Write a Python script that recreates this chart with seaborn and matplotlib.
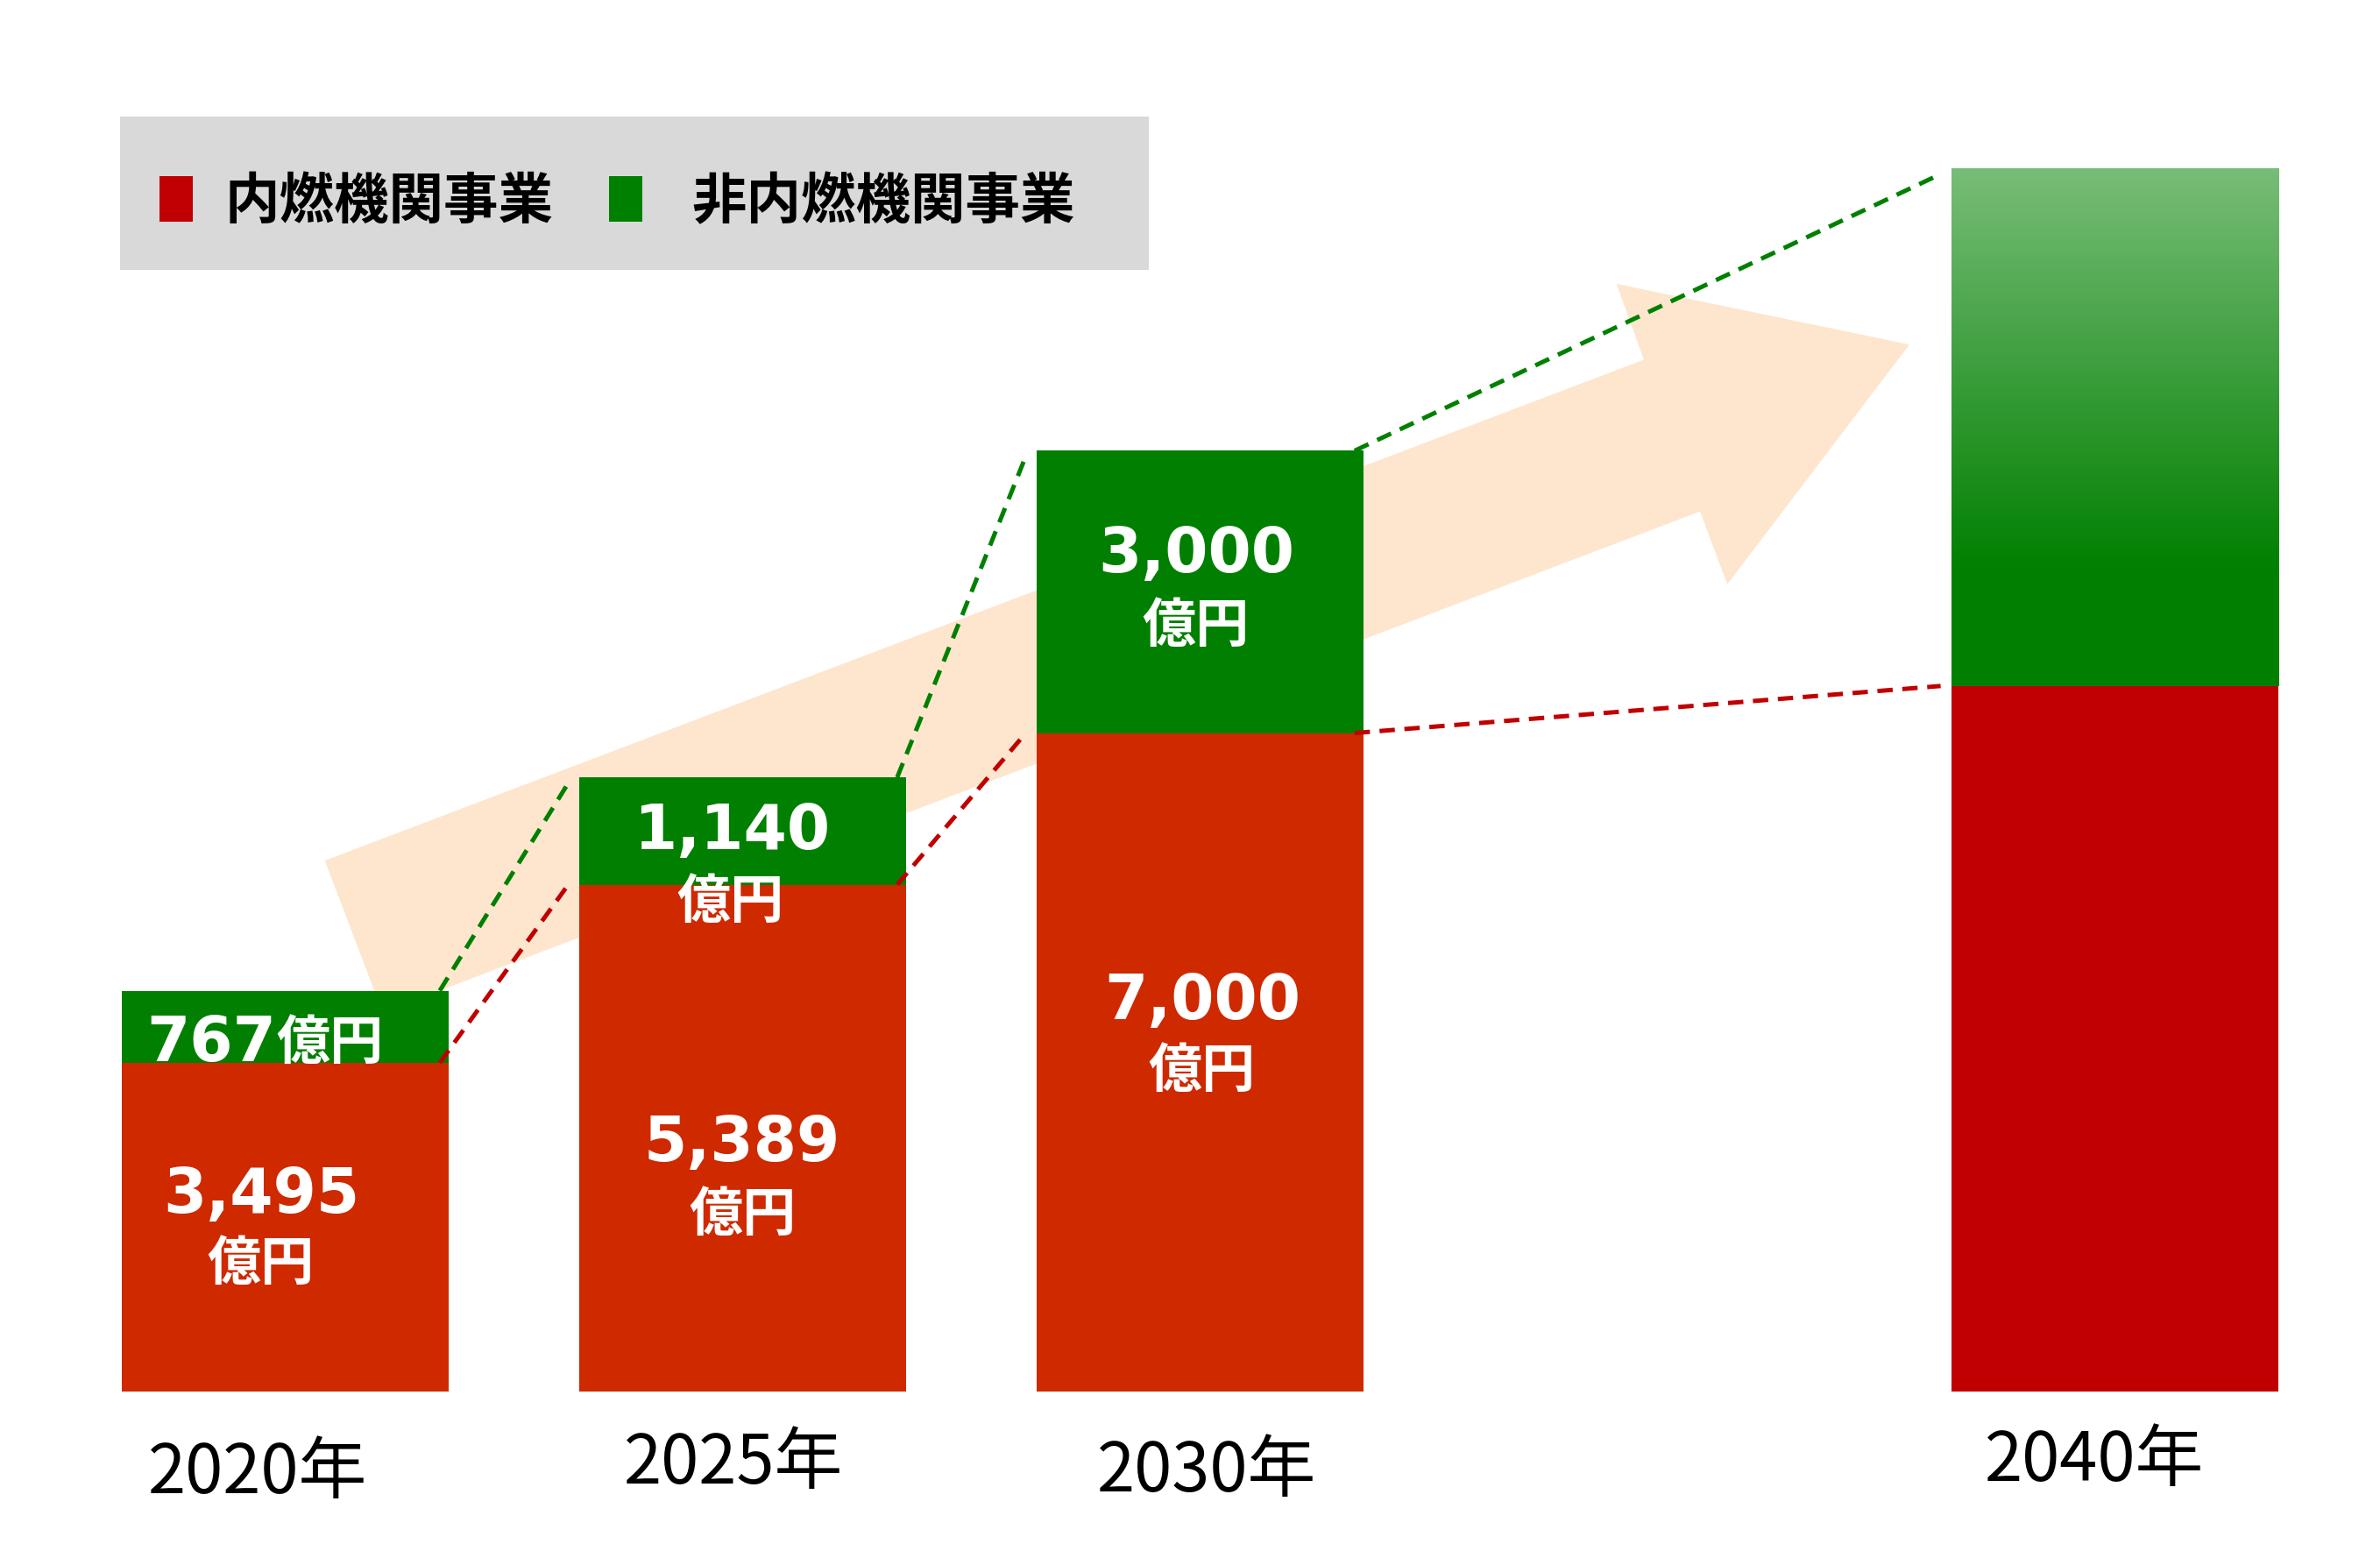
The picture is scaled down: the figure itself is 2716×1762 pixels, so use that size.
import numpy as np
import pandas as pd
import seaborn as sns
import matplotlib.pyplot as plt
from matplotlib.patches import Polygon, Rectangle

# ---- data (億円) ----
years = [2020, 2025, 2030, 2040]
year_labels = ["2020年", "2025年", "2030年", "2040年"]
engine = [3495, 5389, 7000, 7500]        # 内燃機関事業
non_engine = [767, 1140, 3000, 5500]     # 非内燃機関事業
engine_text = ["3,495", "5,389", "7,000"]
non_engine_text = ["767", "1,140", "3,000"]
legend_names = ["内燃機関事業", "非内燃機関事業"]

df = pd.DataFrame({"year": years, "engine": engine, "non_engine": non_engine})
df["total"] = df["engine"] + df["non_engine"]
df["key"] = df["year"].astype(str)

RED = "#CF2900"
RED_DARK = "#C00000"
GREEN = "#007F00"
PEACH = "#FEE6CE"

# reference pixel -> figure fraction
RW, RH = 1568, 1017.3
def fx(x):
    return x / RW
def fy(y):
    return 1 - y / RH

sns.set_style("white")
plt.rcParams["font.family"] = ["Noto Sans CJK JP", "DejaVu Sans"]

fig = plt.figure(figsize=(13.58, 8.81), dpi=200)
ax = fig.add_axes([0, 0, 1, 1])

# stacked bars: total (green) first, engine (red) on top
width = 0.715
green_pal = {k: GREEN for k in df["key"]}
red_pal = {k: (RED_DARK if k == "2040" else RED) for k in df["key"]}
sns.barplot(data=df, x="year", y="total", hue="key", palette=green_pal,
            native_scale=True, width=width, errorbar=None, legend=False,
            dodge=False, saturation=1, linewidth=0, ax=ax, zorder=1)
sns.barplot(data=df, x="year", y="engine", hue="key", palette=red_pal,
            native_scale=True, width=width, errorbar=None, legend=False,
            dodge=False, saturation=1, linewidth=0, ax=ax, zorder=1.2)

# gradient on the 2040 green segment
half = width * 5 / 2
bars = [p for p in ax.patches if isinstance(p, Rectangle)]
top_patch = [p for p in bars
             if abs(p.get_x() + p.get_width() / 2 - 2040) < 0.5
             and p.get_height() > 10000][0]
t = np.linspace(0, 1, 256)
s = np.clip((t - 0.22) / 0.78, 0, 1)
light = np.array([0.47, 0.74, 0.47])
dark = np.array([0.0, 0.5, 0.0])
grad = (dark[None, :] * (1 - s[:, None]) + light[None, :] * s[:, None])[:, None, :]
im = ax.imshow(grad, extent=[2040 - half, 2040 + half, engine[3], engine[3] + non_engine[3]],
               origin="lower", aspect="auto", zorder=1.1)
im.set_clip_path(top_patch)

# big background arrow
arrow_px = [(214, 567), (1083, 237), (1065, 187), (1258, 227),
            (1138, 385), (1120, 337), (252, 667)]
ax.add_patch(Polygon([(fx(x), fy(y)) for x, y in arrow_px], closed=True,
                     transform=fig.transFigure, facecolor=PEACH,
                     edgecolor="none", zorder=0.5))

# dashed connectors
dash = (0, (3.5, 2.2))
for i in range(3):
    j = i + 1
    x0 = years[i] + half - 0.1
    x1 = years[j] - half - 0.12
    ax.plot([x0, x1], [df["total"][i], df["total"][j] - 60], color="#008000",
            ls=dash, lw=1.8, zorder=6)
    ax.plot([x0, x1], [engine[i], engine[j]], color=RED_DARK,
            ls=dash, lw=1.8, zorder=6)

ax.set_xlim(2016.881, 2042.895)
ax.set_ylim(-1618, 14790)
ax.set_axis_off()

# legend box
ax.add_patch(Rectangle((fx(79), fy(178)), fx(757) - fx(79), (178 - 77) / RH,
                       transform=fig.transFigure, facecolor="#D9D9D9",
                       edgecolor="none", zorder=3))
for (sx, tx), c, name in zip([(105, 148), (401, 456)], [RED_DARK, "#008000"], legend_names):
    ax.add_patch(Rectangle((fx(sx), fy(146)), fx(22), 30 / RH,
                           transform=fig.transFigure, facecolor=c,
                           edgecolor="none", zorder=4))
    ax.text(fx(tx), fy(133), name, transform=fig.transFigure, fontsize=22.5,
            fontweight="bold", ha="left", va="center", color="black", zorder=5)

# year labels
year_px = [(170, 971), (483, 965), (795, 970), (1380, 963)]
for (px, py), lab in zip(year_px, year_labels):
    ax.text(fx(px), fy(py), lab, transform=fig.transFigure, fontsize=28,
            ha="center", va="center", color="black", zorder=5)

# value labels
num_kw = dict(transform=fig.transFigure, color="white", fontweight="bold",
              family=["DejaVu Sans", "Noto Sans CJK JP"], fontsize=25.5,
              va="center", zorder=7)
unit_kw = dict(transform=fig.transFigure, color="white", fontweight="bold",
               fontsize=22, va="center", zorder=7)

red_num_px = [(172, 788), (489, 754), (792, 660)]
red_unit_px = [(172, 833), (489, 801), (792, 706)]
for txt, (nx, ny), (ux, uy) in zip(engine_text, red_num_px, red_unit_px):
    ax.text(fx(nx), fy(ny), txt, ha="center", **num_kw)
    ax.text(fx(ux), fy(uy), "億円", ha="center", **unit_kw)

green_num_px = [(482, 548), (788, 366)]
green_unit_px = [(481, 595), (788, 413)]
for txt, (nx, ny), (ux, uy) in zip(non_engine_text[1:], green_num_px, green_unit_px):
    ax.text(fx(nx), fy(ny), txt, ha="center", **num_kw)
    ax.text(fx(ux), fy(uy), "億円", ha="center", **unit_kw)

ax.text(fx(182), fy(688), non_engine_text[0], ha="right", **num_kw)
ax.text(fx(182), fy(688), "億円", ha="left", **unit_kw)

fig.savefig("out.png", dpi=200)
